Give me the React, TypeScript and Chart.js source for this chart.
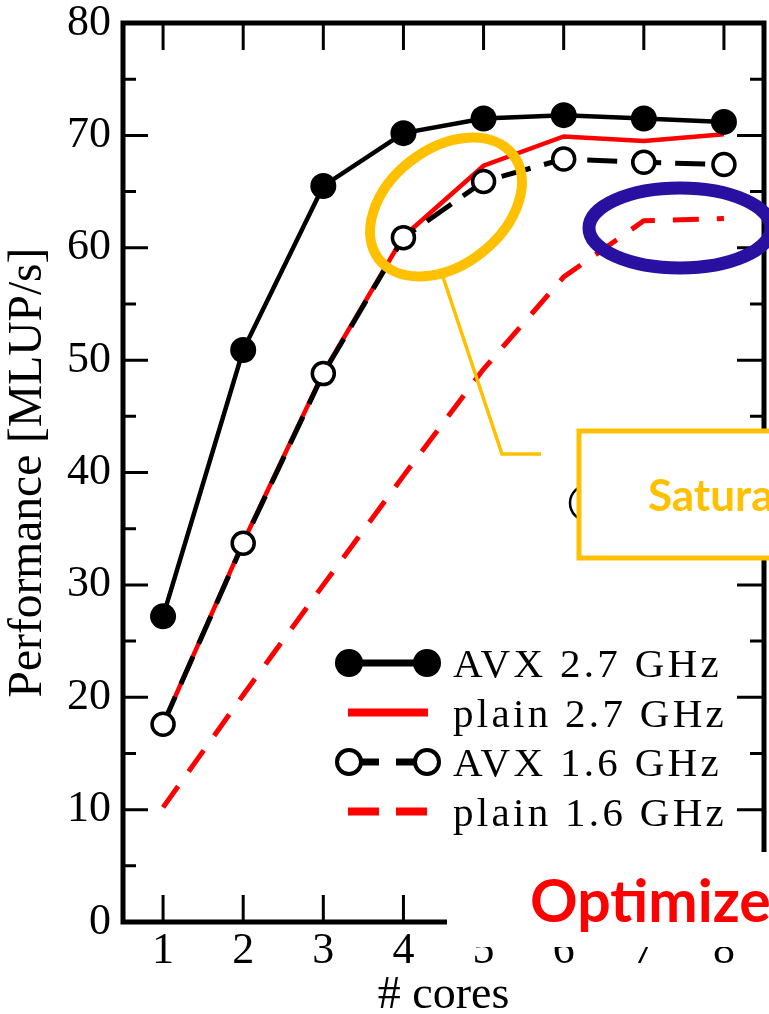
import React, { useEffect, useRef } from 'react';
import { Chart, registerables } from 'chart.js';

Chart.register(...registerables);

// ---- data ----
const cores = [1, 2, 3, 4, 5, 6, 7, 8];
const avx27 = [27.2, 50.9, 65.5, 70.2, 71.5, 71.8, 71.5, 71.2];
const plain27 = [17.6, 33.8, 48.9, 61.0, 67.3, 69.9, 69.5, 70.1];
const avx16 = [17.6, 33.7, 48.8, 60.9, 65.9, 67.9, 67.6, 67.4];
const plain16 = [10.2, 20.2, 30.0, 39.7, 49.2, 57.4, 62.4, 62.6];
const seriesLabels = ['AVX 2.7 GHz', 'plain 2.7 GHz', 'AVX 1.6 GHz', 'plain 1.6 GHz'];
const yMajorTicks = [0, 10, 20, 30, 40, 50, 60, 70, 80];
const yMinorTicks = [5, 15, 25, 35, 45, 55, 65, 75];
const xTitle = '# cores';
const yTitle = 'Performance [MLUP/s]';
const calloutText = 'Satura';
const footerText = 'Optimize';

const SERIF = '"Liberation Serif", "Times New Roman", serif';
const ORANGE = '#FFC000';
const NAVY = '#2A10A0';

const framePlugin = {
  id: 'frameTicks',
  beforeDatasetsDraw(chart: any) {
    const { ctx, chartArea: a, scales } = chart;
    const x = scales.x;
    const y = scales.y;
    ctx.save();
    ctx.strokeStyle = '#000';
    ctx.lineWidth = 3;
    ctx.beginPath();
    yMajorTicks.forEach((v) => {
      if (v === 0 || v === 80) return;
      const py = y.getPixelForValue(v);
      ctx.moveTo(a.left, py);
      ctx.lineTo(a.left + 25, py);
      ctx.moveTo(a.right, py);
      ctx.lineTo(a.right - 27, py);
    });
    yMinorTicks.forEach((v) => {
      const py = y.getPixelForValue(v);
      ctx.moveTo(a.left, py);
      ctx.lineTo(a.left + 13, py);
      ctx.moveTo(a.right, py);
      ctx.lineTo(a.right - 14, py);
    });
    cores.forEach((c) => {
      const px = x.getPixelForValue(c);
      ctx.moveTo(px, a.top);
      ctx.lineTo(px, a.top + 27);
      ctx.moveTo(px, a.bottom);
      ctx.lineTo(px, a.bottom - 27);
    });
    ctx.stroke();
    ctx.lineWidth = 5;
    ctx.strokeRect(a.left, a.top, a.right - a.left, a.bottom - a.top);
    ctx.restore();
  },
};

const legendPlugin = {
  id: 'innerLegend',
  afterDatasetsDraw(chart: any) {
    const { ctx } = chart;
    const x0 = 348;
    const x1 = 428;
    const textX = 453;
    const rowY0 = 663;
    const rowStep = 49.5;
    ctx.save();
    chart.data.datasets.forEach((ds: any, i: number) => {
      const cy = rowY0 + i * rowStep;
      ctx.strokeStyle = ds.borderColor;
      ctx.lineWidth = ds.pointRadius > 0 ? 7 : 8;
      ctx.lineCap = 'butt';
      ctx.setLineDash(ds.borderDash && ds.borderDash.length ? [31, 17] : []);
      ctx.beginPath();
      ctx.moveTo(x0, cy);
      ctx.lineTo(x1, cy);
      ctx.stroke();
      ctx.setLineDash([]);
      if (ds.pointRadius > 0) {
        const r = ds.pointRadius + 1;
        [x0 + 1, x1 - 1].forEach((px) => {
          ctx.beginPath();
          ctx.arc(px, cy, r, 0, Math.PI * 2);
          ctx.fillStyle = ds.pointBackgroundColor;
          ctx.fill();
          if (ds.pointBorderWidth > 0) {
            ctx.lineWidth = ds.pointBorderWidth + 0.5;
            ctx.strokeStyle = ds.pointBorderColor;
            ctx.stroke();
          }
        });
      }
      ctx.fillStyle = '#000';
      ctx.font = `41px ${SERIF}`;
      (ctx as any).letterSpacing = '3.3px';
      ctx.textAlign = 'left';
      ctx.textBaseline = 'alphabetic';
      ctx.fillText(ds.label, textX, cy + 14);
      (ctx as any).letterSpacing = '0px';
    });
    ctx.restore();
  },
};

const overlayPlugin = {
  id: 'slideOverlay',
  afterDraw(chart: any) {
    const { ctx } = chart;
    ctx.save();
    // white slide patch covering bottom-right
    ctx.fillStyle = '#fff';
    ctx.fillRect(447, 852, 330, 95);
    // red footer text
    ctx.fillStyle = '#FF0000';
    ctx.font = 'bold 59px Lato, "Open Sans", sans-serif';
    ctx.textAlign = 'left';
    ctx.textBaseline = 'alphabetic';
    ctx.fillText(footerText, 530, 922);

    // partially hidden circle behind the callout box
    ctx.beginPath();
    ctx.arc(588, 503, 18, 0, Math.PI * 2);
    ctx.strokeStyle = '#000';
    ctx.lineWidth = 2.5;
    ctx.stroke();

    // callout box
    ctx.fillStyle = '#fff';
    ctx.fillRect(579, 431, 220, 127);
    ctx.strokeStyle = ORANGE;
    ctx.lineWidth = 5;
    ctx.strokeRect(579, 431, 220, 127);
    ctx.fillStyle = ORANGE;
    ctx.font = 'bold 44px Lato, "Open Sans", sans-serif';
    ctx.fillText(calloutText, 648, 511);

    // connector line
    ctx.beginPath();
    ctx.moveTo(443, 277);
    ctx.lineTo(502, 454);
    ctx.lineTo(541, 454);
    ctx.lineWidth = 3.5;
    ctx.strokeStyle = ORANGE;
    ctx.stroke();

    // orange ellipse
    ctx.beginPath();
    ctx.ellipse(446, 207, 85, 58, (-38 * Math.PI) / 180, 0, Math.PI * 2);
    ctx.lineWidth = 10;
    ctx.strokeStyle = ORANGE;
    ctx.stroke();

    // navy ellipse
    ctx.beginPath();
    ctx.ellipse(680, 228, 91, 40, 0, 0, Math.PI * 2);
    ctx.lineWidth = 13;
    ctx.strokeStyle = NAVY;
    ctx.stroke();
    ctx.restore();
  },
};

function toXY(values: number[]) {
  return cores.map((c, i) => ({ x: c, y: values[i] }));
}

export default function App() {
  const canvasRef = useRef<HTMLCanvasElement | null>(null);

  useEffect(() => {
    document.body.style.margin = '0';
    const canvas = canvasRef.current;
    if (!canvas) return;
    const tickFont = { family: SERIF, size: 44, lineHeight: 1 };
    const chart = new Chart(canvas, {
      type: 'line',
      data: {
        datasets: [
          {
            label: seriesLabels[0],
            data: toXY(avx27),
            borderColor: '#000',
            borderWidth: 4.5,
            pointRadius: 13,
            pointHoverRadius: 13,
            pointBackgroundColor: '#000',
            pointBorderColor: '#000',
            pointBorderWidth: 0,
            borderDash: [],
            tension: 0,
            order: 0,
          },
          {
            label: seriesLabels[1],
            data: toXY(plain27),
            borderColor: '#FF0000',
            borderWidth: 4.5,
            pointRadius: 0,
            borderDash: [],
            tension: 0,
            order: 2,
          },
          {
            label: seriesLabels[2],
            data: toXY(avx16),
            borderColor: '#000',
            borderWidth: 5,
            borderDash: [30, 14],
            pointRadius: 11,
            pointHoverRadius: 11,
            pointBackgroundColor: '#fff',
            pointBorderColor: '#000',
            pointBorderWidth: 3.5,
            tension: 0,
            order: 1,
          },
          {
            label: seriesLabels[3],
            data: toXY(plain16),
            borderColor: '#FF0000',
            borderWidth: 5,
            borderDash: [26, 18],
            pointRadius: 0,
            tension: 0,
            order: 3,
          },
        ],
      } as any,
      options: {
        responsive: false,
        animation: false,
        events: [],
        layout: { autoPadding: false, padding: { top: 23, right: 5, left: 0, bottom: 0 } },
        plugins: {
          legend: { display: false },
          tooltip: { enabled: false },
        },
        scales: {
          x: {
            type: 'linear',
            min: 0.5,
            max: 8.5,
            afterBuildTicks: (s: any) => {
              s.ticks = cores.map((v) => ({ value: v }));
            },
            afterFit: (s: any) => {
              s.height = 92;
              s.paddingLeft = 0;
              s.paddingRight = 0;
            },
            ticks: { font: tickFont, color: '#000', padding: 7 },
            grid: { display: false, drawTicks: false },
            border: { display: false },
            title: {
              display: true,
              text: xTitle,
              color: '#000',
              font: { family: SERIF, size: 46, lineHeight: 0.8 },
              padding: 0,
            },
          },
          y: {
            type: 'linear',
            min: 0,
            max: 80,
            afterBuildTicks: (s: any) => {
              s.ticks = yMajorTicks.map((v) => ({ value: v }));
            },
            afterFit: (s: any) => {
              s.width = 123;
              s.paddingTop = 0;
              s.paddingBottom = 0;
            },
            ticks: { font: tickFont, color: '#000', padding: 12 },
            grid: { display: false, drawTicks: false },
            border: { display: false },
            title: {
              display: true,
              text: yTitle,
              color: '#000',
              font: { family: SERIF, size: 47.5, lineHeight: 1.2 },
              padding: 0,
            },
          },
        },
      } as any,
      plugins: [framePlugin, legendPlugin, overlayPlugin],
    });
    return () => chart.destroy();
  }, []);

  return (
    <div style={{ width: 769, height: 1014, background: '#fff' }}>
      <canvas ref={canvasRef} width={769} height={1014} style={{ display: 'block', width: 769, height: 1014 }} />
    </div>
  );
}
